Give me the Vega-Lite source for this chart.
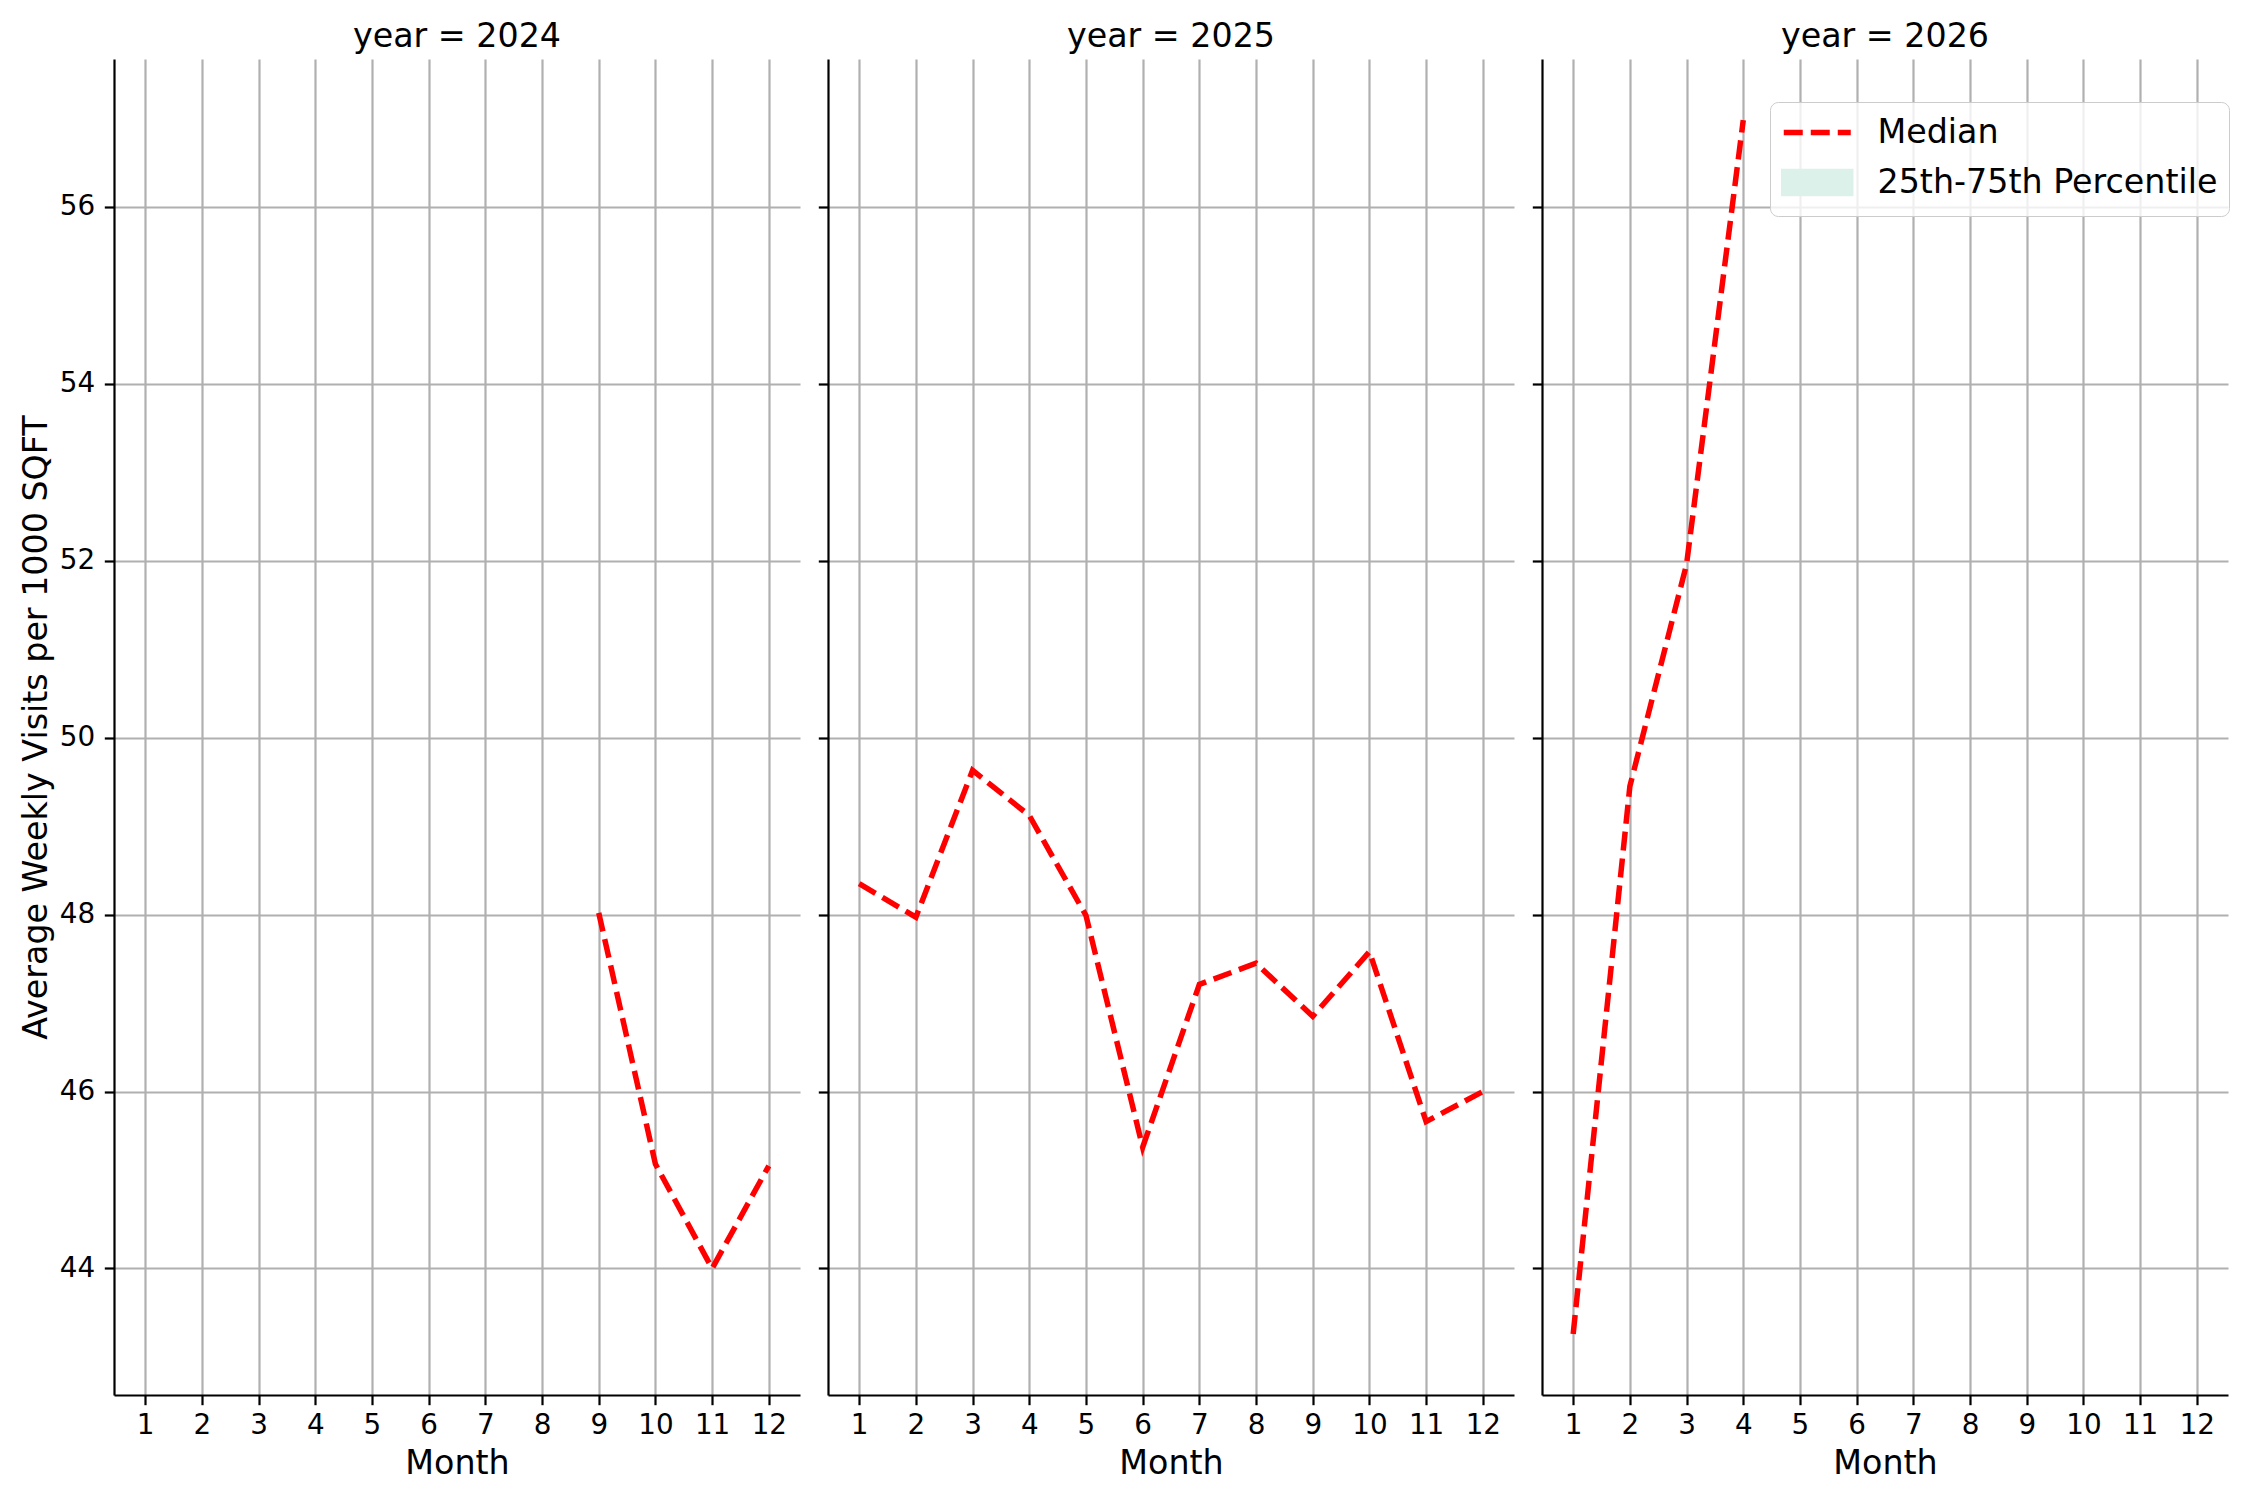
{
  "$schema": "https://vega.github.io/schema/vega-lite/v6.json",
  "background": "white",
  "padding": {"left": 19, "top": 19, "right": 10, "bottom": 10},
  "data": {
    "values": [
      {"year": 2024, "month": 9, "median": 48.02, "series": "Median"},
      {"year": 2024, "month": 10, "median": 45.18, "series": "Median"},
      {"year": 2024, "month": 11, "median": 44.0, "series": "Median"},
      {"year": 2024, "month": 12, "median": 45.16, "series": "Median"},
      {"year": 2025, "month": 1, "median": 48.35, "series": "Median"},
      {"year": 2025, "month": 2, "median": 47.97, "series": "Median"},
      {"year": 2025, "month": 3, "median": 49.63, "series": "Median"},
      {"year": 2025, "month": 4, "median": 49.12, "series": "Median"},
      {"year": 2025, "month": 5, "median": 47.99, "series": "Median"},
      {"year": 2025, "month": 6, "median": 45.37, "series": "Median"},
      {"year": 2025, "month": 7, "median": 47.21, "series": "Median"},
      {"year": 2025, "month": 8, "median": 47.45, "series": "Median"},
      {"year": 2025, "month": 9, "median": 46.85, "series": "Median"},
      {"year": 2025, "month": 10, "median": 47.58, "series": "Median"},
      {"year": 2025, "month": 11, "median": 45.66, "series": "Median"},
      {"year": 2025, "month": 12, "median": 46.0, "series": "Median"},
      {"year": 2026, "month": 1, "median": 43.26, "series": "Median"},
      {"year": 2026, "month": 2, "median": 49.45, "series": "Median"},
      {"year": 2026, "month": 3, "median": 51.96, "series": "Median"},
      {"year": 2026, "month": 4, "median": 56.98, "series": "Median"}
    ]
  },
  "spacing": 28,
  "bounds": "flush",
  "resolve": {"scale": {"color": "independent"}, "legend": {"color": "independent"}},
  "hconcat": [
    {
      "width": 686,
      "height": 1336,
      "title": "year = 2024",
      "transform": [{"filter": "datum.year == 2024"}],
      "mark": {"type": "line", "color": "red", "strokeWidth": 5.5, "strokeDash": [19, 8]},
      "encoding": {
        "x": {
          "field": "month", "type": "quantitative", "title": "Month",
          "scale": {"domain": [0.45, 12.55], "nice": false, "zero": false},
          "axis": {"values": [1, 2, 3, 4, 5, 6, 7, 8, 9, 10, 11, 12]}
        },
        "y": {
          "field": "median", "type": "quantitative",
          "title": "Average Weekly Visits per 1000 SQFT",
          "scale": {"domain": [42.57, 57.67], "nice": false, "zero": false},
          "axis": {"values": [44, 46, 48, 50, 52, 54, 56]}
        }
      }
    },
    {
      "width": 686,
      "height": 1336,
      "title": "year = 2025",
      "transform": [{"filter": "datum.year == 2025"}],
      "mark": {"type": "line", "color": "red", "strokeWidth": 5.5, "strokeDash": [19, 8]},
      "encoding": {
        "x": {
          "field": "month", "type": "quantitative", "title": "Month",
          "scale": {"domain": [0.45, 12.55], "nice": false, "zero": false},
          "axis": {"values": [1, 2, 3, 4, 5, 6, 7, 8, 9, 10, 11, 12]}
        },
        "y": {
          "field": "median", "type": "quantitative", "title": null,
          "scale": {"domain": [42.57, 57.67], "nice": false, "zero": false},
          "axis": {"values": [44, 46, 48, 50, 52, 54, 56], "labels": false}
        }
      }
    },
    {
      "width": 686,
      "height": 1336,
      "title": "year = 2026",
      "transform": [{"filter": "datum.year == 2026"}],
      "mark": {"type": "line", "strokeWidth": 5.5, "strokeDash": [19, 8]},
      "encoding": {
        "x": {
          "field": "month", "type": "quantitative", "title": "Month",
          "scale": {"domain": [0.45, 12.55], "nice": false, "zero": false},
          "axis": {"values": [1, 2, 3, 4, 5, 6, 7, 8, 9, 10, 11, 12]}
        },
        "y": {
          "field": "median", "type": "quantitative", "title": null,
          "scale": {"domain": [42.57, 57.67], "nice": false, "zero": false},
          "axis": {"values": [44, 46, 48, 50, 52, 54, 56], "labels": false}
        },
        "color": {
          "field": "series", "type": "nominal",
          "scale": {"domain": ["Median", "25th-75th Percentile"], "range": ["red", "#ddf1eb"]},
          "legend": {
            "title": null,
            "orient": "none",
            "legendX": 228,
            "legendY": 43,
            "padding": 11,
            "fillColor": "rgba(255,255,255,0.8)",
            "strokeColor": "#cccccc",
            "cornerRadius": 8,
            "labelFontSize": 33.3,
            "labelColor": "black",
            "labelLimit": 0,
            "labelOffset": 57.5,
            "rowPadding": 11,
            "symbolSize": 1122,
            "encode": {
              "symbols": {
                "update": {
                  "shape": {"signal": "datum.value === 'Median' ? 'M-1,0H3' : 'M-1,-0.66H3V0.66H-1Z'"},
                  "stroke": {"signal": "datum.value === 'Median' ? 'red' : 'transparent'"},
                  "fill": {"signal": "datum.value === 'Median' ? 'transparent' : '#ddf1eb'"},
                  "strokeWidth": {"value": 5.5},
                  "strokeDash": {"signal": "datum.value === 'Median' ? [19, 8] : [1, 0]"},
                  "opacity": {"value": 1}
                }
              }
            }
          }
        }
      }
    }
  ],
  "config": {
    "font": "DejaVu Sans",
    "view": {"stroke": null},
    "title": {"fontSize": 33.3, "fontWeight": "normal", "color": "black", "offset": 5, "anchor": "middle"},
    "axis": {
      "labelFontSize": 27.8,
      "labelColor": "black",
      "titleFontSize": 33.3,
      "titleFontWeight": "normal",
      "titleColor": "black",
      "gridColor": "#b0b0b0",
      "gridWidth": 2.2,
      "gridOpacity": 1,
      "domainColor": "black",
      "domainWidth": 2.2,
      "tickColor": "black",
      "tickWidth": 2.2,
      "tickSize": 9.7,
      "labelPadding": 9.7
    },
    "axisX": {"titlePadding": 8, "labelAngle": 0, "labelPadding": 6.7},
    "axisY": {"titlePadding": 6, "labelAngle": 0}
  }
}
